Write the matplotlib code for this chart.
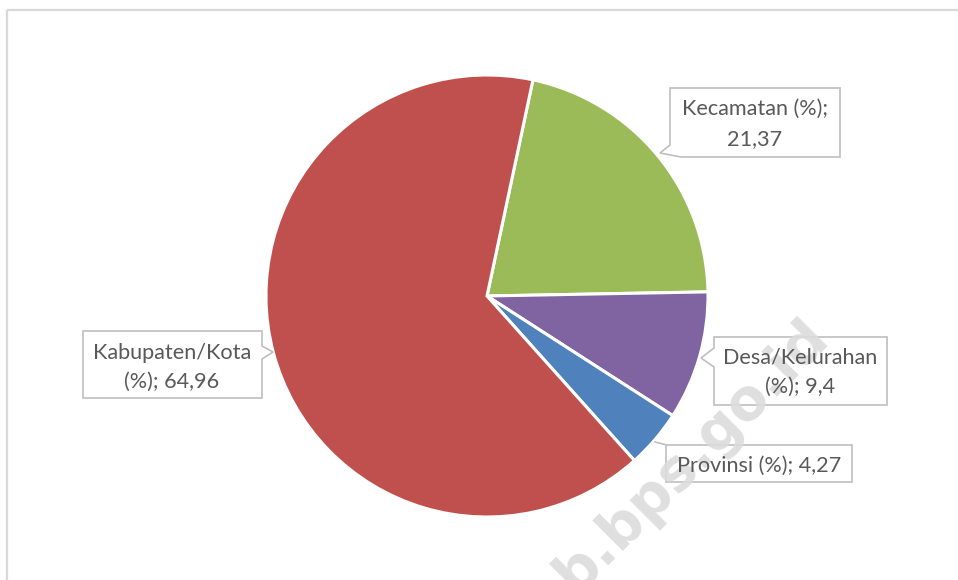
import matplotlib
matplotlib.use("Agg")
import matplotlib.pyplot as plt
from matplotlib.patches import Polygon, Rectangle
from matplotlib.lines import Line2D
from matplotlib.transforms import Affine2D

# ---- data ----
categories = ["Kecamatan (%)", "Desa/Kelurahan (%)", "Provinsi (%)", "Kabupaten/Kota (%)"]
values = [21.37, 9.4, 4.27, 64.96]
value_labels = ["21,37", "9,4", "4,27", "64,96"]
colors = ["#9BBB59", "#8064A2", "#4F81BD", "#C0504D"]

W, H = 958, 580
fig = plt.figure(figsize=(W / 100, H / 100), dpi=100)
plt.rcParams['font.family'] = ['Lato', 'DejaVu Sans']

# pie axes: centre (487, 296) px, radius 221 px
cx, cy, R = 487, 296, 221
ax = fig.add_axes([0, 0, 1, 1])
ax.axis('off')
ax.pie(values, colors=colors, startangle=78, counterclock=False, radius=1,
       center=(0, 0), frame=False,
       wedgeprops=dict(edgecolor='white', linewidth=2.2))
ax.set_aspect('auto')
ax.set_xlim(-cx / R, (W - cx) / R)
ax.set_ylim(-(H - cy) / R, cy / R)

# pixel transform with y downward
T = Affine2D().scale(1, -1).translate(0, H)

# outer frame
fig.patches.append(Rectangle((6.5, 9.5), 1000, 1000, transform=T, fill=False,
                             edgecolor='#d9d9d9', linewidth=1.6))

edge = '#bfbfbf'
tcol = '#595959'
fs = 15.6

def callout(pts):
    p = Polygon(pts, closed=True, transform=T, facecolor='white',
                edgecolor=edge, linewidth=1.2, zorder=5)
    fig.patches.append(p)

def label(x, y, s):
    fig.text(x, y, s, transform=T, ha='center', va='center', fontsize=fs,
             color=tcol, zorder=8)

# Kecamatan
callout([(670, 88), (840, 88), (840, 157), (681, 157), (660, 153), (670, 145)])
label(755, 109, categories[0] + ";")
label(755, 139, value_labels[0])

# Desa/Kelurahan
callout([(714, 337), (887, 337), (887, 405), (714, 405), (714, 367), (701, 358), (714, 348)])
label(800, 358, "Desa/Kelurahan")
label(800, 387, "(%); " + value_labels[1])

# Provinsi
fig.lines.append(Line2D([655, 667], [442, 445], transform=T, color=edge, linewidth=1.2))
callout([(666, 445), (852, 445), (852, 482), (666, 482)])
label(759, 466, categories[2] + "; " + value_labels[2])

# Kabupaten/Kota
callout([(83, 331), (262, 331), (262, 346), (273, 352), (262, 359), (262, 398), (83, 398)])
label(172, 353, "Kabupaten/Kota")
label(172, 382, "(%); " + value_labels[3])

# watermark
fig.text(583, 603, "b.bps.go.id", transform=T, rotation=45, fontsize=41,
         fontweight='bold', color='#dcdcdc', alpha=0.9, ha='left', va='bottom',
         family='DejaVu Sans', zorder=7, rotation_mode='anchor')

fig.savefig("out.png", dpi=100, facecolor='white')
